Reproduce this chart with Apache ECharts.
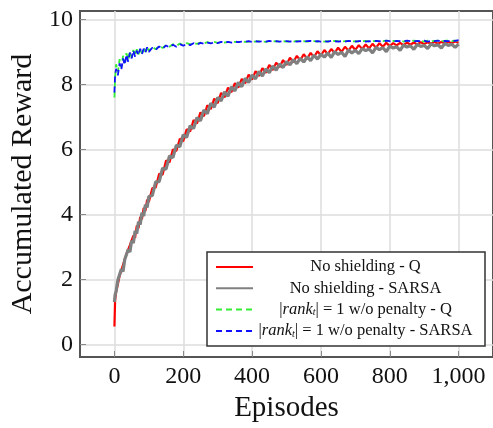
<!DOCTYPE html>
<html>
<head>
<meta charset="utf-8">
<script src="https://cdn.jsdelivr.net/npm/echarts@6/dist/echarts.min.js"></script>
<style>html,body{margin:0;padding:0;background:#fff}#c{width:493px;height:428px}</style>
</head>
<body>
<div id="c"></div>
<script>
const episodes = [0,2,5,10,15,20,25,30,35,40,45,50,55,60,65,70,75,80,85,90,95,100,
 110,120,130,140,150,160,170,180,190,200,
 210,220,230,240,250,260,270,280,290,300,
 310,320,330,340,350,360,370,380,390,400,
 410,420,430,440,450,460,470,480,490,500,
 510,520,530,540,550,560,570,580,590,600,
 610,620,630,640,650,660,670,680,690,700,
 710,720,730,740,750,760,770,780,790,800,
 810,820,830,840,850,860,870,880,890,900,
 910,920,930,940,950,960,970,980,990,1000];

const noShieldQ = [0.55,1.36,1.62,1.85,2.10,2.15,2.45,2.40,2.78,2.72,3.05,3.00,3.35,3.28,3.65,3.58,3.92,3.85,4.20,4.10,4.45,4.38,
 4.80,4.83,5.25,5.22,5.66,5.60,6.00,5.95,6.33,6.25,
 6.62,6.55,6.90,6.80,7.14,7.02,7.36,7.24,7.56,7.42,
 7.74,7.60,7.90,7.76,8.04,7.90,8.17,8.03,8.30,8.15,
 8.41,8.26,8.50,8.36,8.60,8.44,8.67,8.53,8.75,8.60,
 8.82,8.68,8.88,8.74,8.93,8.79,8.97,8.84,9.02,8.89,
 9.06,8.93,9.09,8.97,9.13,9.00,9.16,9.04,9.19,9.06,
 9.21,9.09,9.23,9.11,9.25,9.13,9.27,9.16,9.28,9.18,
 9.27,9.20,9.28,9.21,9.29,9.22,9.29,9.23,9.30,9.24,
 9.30,9.25,9.31,9.25,9.31,9.26,9.31,9.27,9.32,9.28];

const noShieldSARSA = [1.30,1.52,1.64,1.98,1.97,2.31,2.24,2.61,2.55,2.92,2.84,3.19,3.12,3.49,3.41,3.77,3.69,4.05,3.95,4.30,4.21,4.55,
 4.58,5.00,5.01,5.42,5.39,5.80,5.75,6.13,6.08,6.45,
 6.37,6.73,6.64,6.98,6.88,7.21,7.10,7.42,7.30,7.60,
 7.49,7.77,7.64,7.93,7.80,8.06,7.93,8.19,8.06,8.29,
 8.17,8.40,8.26,8.48,8.36,8.57,8.44,8.63,8.52,8.70,
 8.60,8.76,8.64,8.80,8.69,8.85,8.73,8.90,8.78,8.93,
 8.84,8.97,8.83,9.01,8.92,8.99,8.86,9.06,8.97,9.05,
 8.95,9.10,9.04,9.09,8.97,9.14,9.07,9.13,9.01,9.18,
 9.12,9.16,9.05,9.21,9.15,9.19,9.08,9.23,9.17,9.20,
 9.10,9.25,9.19,9.22,9.12,9.26,9.20,9.24,9.14,9.24];

const rankQ = [7.60,8.20,8.62,8.38,8.78,8.52,8.88,8.66,8.96,8.76,9.02,8.82,9.06,8.88,9.08,8.92,9.12,8.95,9.13,9.00,9.15,9.03,
 9.16,9.08,9.19,9.12,9.22,9.16,9.24,9.18,9.26,9.21,
 9.27,9.23,9.28,9.25,9.29,9.26,9.30,9.27,9.31,9.28,
 9.30,9.29,9.31,9.30,9.31,9.30,9.32,9.31,9.32,9.31,
 9.32,9.33,9.32,9.31,9.33,9.32,9.33,9.32,9.33,9.32,
 9.33,9.32,9.34,9.32,9.33,9.32,9.33,9.33,9.32,9.34,
 9.32,9.33,9.32,9.34,9.33,9.32,9.33,9.34,9.32,9.33,
 9.32,9.33,9.34,9.32,9.33,9.34,9.32,9.33,9.35,9.32,
 9.34,9.33,9.35,9.32,9.34,9.33,9.35,9.33,9.34,9.32,
 9.35,9.33,9.34,9.35,9.33,9.34,9.36,9.33,9.35,9.34];

const rankSARSA = [7.75,8.30,8.48,8.28,8.65,8.45,8.80,8.60,8.92,8.70,8.98,8.80,9.05,8.85,9.04,8.90,9.10,8.93,9.10,8.98,9.14,9.00,
 9.13,9.06,9.17,9.10,9.20,9.14,9.22,9.16,9.24,9.19,
 9.25,9.21,9.27,9.23,9.28,9.25,9.29,9.26,9.30,9.27,
 9.31,9.28,9.31,9.29,9.32,9.30,9.32,9.31,9.33,9.31,
 9.33,9.32,9.33,9.32,9.34,9.32,9.33,9.32,9.33,9.33,
 9.32,9.34,9.32,9.33,9.32,9.33,9.34,9.32,9.33,9.32,
 9.33,9.32,9.34,9.33,9.32,9.33,9.32,9.34,9.33,9.32,
 9.33,9.34,9.32,9.33,9.32,9.34,9.33,9.32,9.35,9.33,
 9.32,9.34,9.33,9.32,9.35,9.33,9.32,9.34,9.33,9.35,
 9.32,9.34,9.33,9.35,9.32,9.34,9.33,9.35,9.34,9.36];

const xTicks = [0,200,400,600,800,1000];
const yTicks = [0,2,4,6,8,10];
const seriesNames = ['No shielding - Q','No shielding - SARSA','|rank_t| = 1 w/o penalty - Q','|rank_t| = 1 w/o penalty - SARSA'];
const seriesColors = ['#ff0000','#808080','#33ee33','#1010ff'];

const FONT = 'Liberation Serif';
function pairs(vals){ return episodes.map((e,i)=>[e, vals[i]]); }
const allVals = [noShieldQ, noShieldSARSA, rankQ, rankSARSA];

const chart = echarts.init(document.getElementById('c'), null, {renderer:'canvas'});
chart.setOption({
  animation:false,
  backgroundColor:'#fff',
  grid:{left:79, right:-5, top:11, bottom:71, show:true, borderColor:'#555', borderWidth:2, containLabel:false},
  xAxis:{
    type:'value', min:-100, max:1100,
    name:'Episodes', nameLocation:'middle', nameGap:34,
    nameTextStyle:{fontFamily:FONT, fontSize:29, color:'#111'},
    axisLine:{show:true, onZero:false, lineStyle:{color:'#555', width:2}},
    axisTick:{show:true, inside:true, length:6, customValues:xTicks, lineStyle:{color:'#888'}},
    axisLabel:{customValues:xTicks, margin:8, fontFamily:FONT, fontSize:24, color:'#111',
      formatter:v=>String(v).replace(/\B(?=(\d{3})+(?!\d))/g, ',')},
    splitLine:{show:true, lineStyle:{color:'#dcdcdc', width:1.5}}
  },
  yAxis:{
    type:'value', min:-0.39, max:10.26,
    name:'Accumulated Reward', nameLocation:'middle', nameGap:42,
    nameTextStyle:{fontFamily:FONT, fontSize:30, color:'#111'},
    axisLine:{show:true, onZero:false, lineStyle:{color:'#555', width:2}},
    axisTick:{show:true, inside:true, length:6, customValues:yTicks, lineStyle:{color:'#888'}},
    axisLabel:{customValues:yTicks, margin:7, fontFamily:FONT, fontSize:24, color:'#111'},
    splitLine:{show:true, lineStyle:{color:'#dcdcdc', width:1.5}}
  },
  legend:{
    orient:'vertical', left:207, top:252,
    padding:[6.5,12,6.5,8], itemGap:4.3, itemWidth:37, itemHeight:14,
    backgroundColor:'#fff', borderColor:'#333', borderWidth:1.5, borderRadius:0,
    selectedMode:false,
    itemStyle:{opacity:0},
    lineStyle:{width:2},
    data:seriesNames,
    textStyle:{fontFamily:FONT, fontSize:16.5, color:'#111', width:215, lineHeight:16,
      rich:{
        n:{fontFamily:FONT, fontSize:16.5, color:'#111', align:'center', lineHeight:16},
        it:{fontFamily:FONT, fontSize:16.5, fontStyle:'italic', color:'#111', align:'center', lineHeight:16},
        sub:{fontFamily:FONT, fontSize:10, fontStyle:'italic', color:'#111', align:'center', verticalAlign:'bottom', lineHeight:16}
      }},
    formatter:function(name){
      const m = name.match(/^\|rank_t\| (.*)$/);
      if (m) return '{n||}{it|rank}{sub|t}{n||\u00a0' + m[1] + '}';
      return '{n|' + name + '}';
    }
  },
  series: seriesNames.map((nm,i)=>({
    name:nm, type:'line', data:pairs(allVals[i]),
    symbol:'none', showSymbol:false, z: 2+i,
    color:seriesColors[i],
    itemStyle:{opacity:0},
    lineStyle:{color:seriesColors[i], width: i===1 ? 3.2 : (i===0 ? 2.2 : 1.8), type: i>=2 ? [6,4] : 'solid'}
  }))
});
</script>
</body>
</html>
